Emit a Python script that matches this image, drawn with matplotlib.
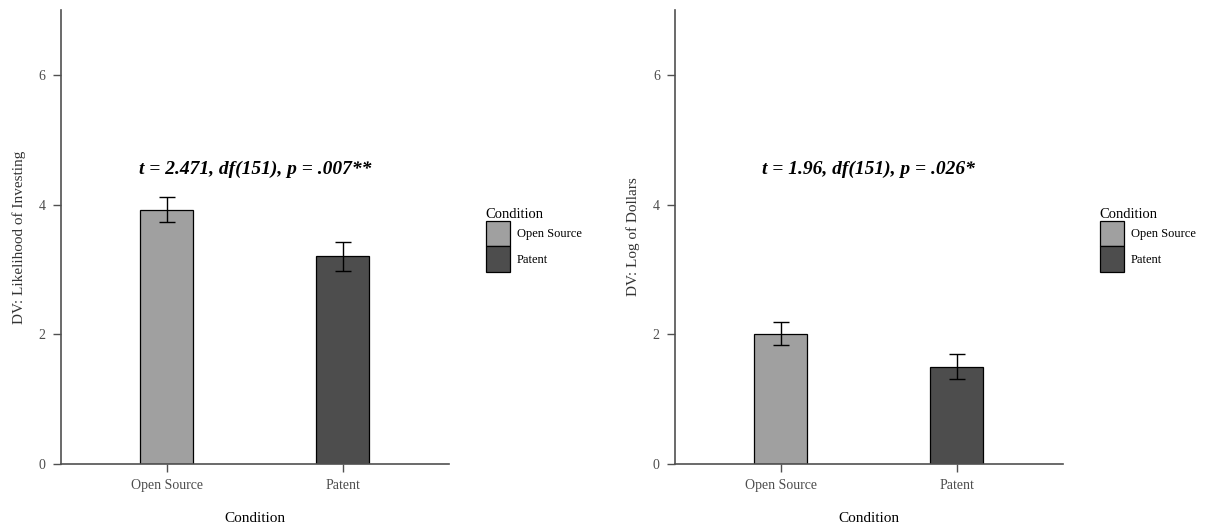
import numpy as np
import matplotlib.pyplot as plt

# data
conditions = ['Open Source', 'Patent']
invest_mean = [3.92, 3.20]
invest_se = [0.19, 0.22]
dollars_mean = [2.01, 1.50]
dollars_se = [0.18, 0.19]
bar_colors = ['#a0a0a0', '#4d4d4d']

panels = [
    ('DV: Likelihood of Investing', invest_mean, invest_se,
     r't = 2.471, df(151), p = .007**'),
    ('DV: Log of Dollars', dollars_mean, dollars_se,
     r't = 1.96, df(151), p = .026*'),
]

plt.rcParams['font.family'] = ['Liberation Serif', 'DejaVu Serif']
axis_gray = '#505050'
text_gray = '#4d4d4d'

fig = plt.figure(figsize=(12.08, 5.27), dpi=100)
lefts = [0.0505, 0.5588]

for left, (ylab, means, ses, note) in zip(lefts, panels):
    ax = fig.add_axes([left, 0.1195, 0.3208, 0.8615])
    x = np.arange(len(conditions))
    bars = ax.bar(x, means, width=0.30, color=bar_colors,
                  edgecolor='black', linewidth=0.9, label=conditions)
    ax.errorbar(x, means, yerr=ses, fmt='none', ecolor='black',
                elinewidth=1.0, capsize=6, capthick=1.0)
    ax.set_xlim(-0.6, 1.6)
    ax.set_ylim(0, 7)
    ax.set_yticks([0, 2, 4, 6])
    ax.set_xticks(x)
    ax.set_xticklabels(conditions)
    for s in ['top', 'right']:
        ax.spines[s].set_visible(False)
    for s in ['left', 'bottom']:
        ax.spines[s].set_color(axis_gray)
        ax.spines[s].set_linewidth(1.2)
    ax.tick_params(axis='both', colors=axis_gray, labelcolor=text_gray,
                   labelsize=10, length=6, width=1.0, pad=5)
    ax.set_xlabel('Condition', fontsize=11, color='black', labelpad=14)
    ax.set_ylabel(ylab, fontsize=11, color='#333333', labelpad=9)
    ax.text(0.5, 4.55, note, ha='center', va='center', fontsize=14,
            fontweight='bold', fontstyle='italic', color='black')
    leg = ax.legend(handles=list(bars), labels=conditions, title='Condition',
                    loc='center left', bbox_to_anchor=(1.08, 0.494),
                    frameon=False, fontsize=9, title_fontsize=10.5,
                    handlelength=1.9, handleheight=2.75, labelspacing=0,
                    handletextpad=0.6, borderpad=0)
    leg._legend_box.align = 'left'

fig.savefig('out.png', dpi=100)
